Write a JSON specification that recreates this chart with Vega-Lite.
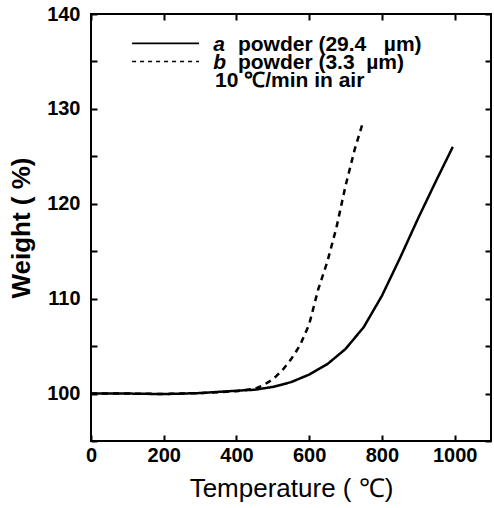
{
  "$schema": "https://vega.github.io/schema/vega-lite/v6.json",
  "width": 400,
  "height": 427,
  "autosize": {"type": "none"},
  "padding": {"left": 91, "top": 14, "right": 3, "bottom": 67},
  "background": "white",
  "config": {
    "view": {"stroke": "black", "strokeWidth": 2},
    "font": "Liberation Sans",
    "axis": {"labelColor": "black", "titleColor": "black", "labelFont": "Liberation Sans", "titleFont": "Liberation Sans"}
  },
  "datasets": {
    "curves": [
      {"T": 0, "W": 100.0, "s": "a"}, {"T": 100, "W": 100.0, "s": "a"}, {"T": 200, "W": 99.95, "s": "a"},
      {"T": 300, "W": 100.05, "s": "a"}, {"T": 400, "W": 100.3, "s": "a"}, {"T": 450, "W": 100.4, "s": "a"},
      {"T": 500, "W": 100.7, "s": "a"}, {"T": 550, "W": 101.2, "s": "a"}, {"T": 600, "W": 102.0, "s": "a"},
      {"T": 650, "W": 103.1, "s": "a"}, {"T": 700, "W": 104.7, "s": "a"}, {"T": 750, "W": 107.0, "s": "a"},
      {"T": 800, "W": 110.3, "s": "a"}, {"T": 850, "W": 114.3, "s": "a"}, {"T": 900, "W": 118.5, "s": "a"},
      {"T": 950, "W": 122.5, "s": "a"}, {"T": 995, "W": 126.0, "s": "a"},
      {"T": 0, "W": 100.0, "s": "b"}, {"T": 100, "W": 100.0, "s": "b"}, {"T": 200, "W": 99.95, "s": "b"},
      {"T": 300, "W": 100.05, "s": "b"}, {"T": 400, "W": 100.25, "s": "b"}, {"T": 450, "W": 100.5, "s": "b"},
      {"T": 475, "W": 100.9, "s": "b"}, {"T": 500, "W": 101.5, "s": "b"}, {"T": 525, "W": 102.4, "s": "b"},
      {"T": 550, "W": 103.6, "s": "b"}, {"T": 575, "W": 105.1, "s": "b"}, {"T": 600, "W": 107.3, "s": "b"},
      {"T": 625, "W": 111.0, "s": "b"}, {"T": 650, "W": 113.9, "s": "b"}, {"T": 675, "W": 117.5, "s": "b"},
      {"T": 700, "W": 121.9, "s": "b"}, {"T": 725, "W": 125.7, "s": "b"}, {"T": 748, "W": 128.6, "s": "b"}
    ]
  },
  "layer": [
    {
      "data": {"name": "curves"},
      "mark": {"type": "line", "color": "black", "strokeWidth": 2.5},
      "encoding": {
        "x": {
          "field": "T", "type": "quantitative",
          "scale": {"domain": [0, 1100], "nice": false, "zero": false},
          "axis": {
            "orient": "bottom", "values": [0,100,200,300,400,500,600,700,800,900,1000,1100], "format": "d",
            "labelExpr": "datum.value % 200 === 0 && datum.value <= 1000 ? datum.label : ''",
            "domain": false, "ticks": false, "tickSize": 0,
            "grid": true, "gridColor": "black", "gridOpacity": 1, "gridWidth": 2, "gridDash": [6, 415, 6, 600],
            "labelFontSize": 20, "labelFontWeight": "bold", "labelPadding": 4, "labelFlush": false,
            "title": "Temperature (\u00a0\u2103)", "titleFontSize": 26, "titleFontWeight": "normal", "titlePadding": 10
          }
        },
        "y": {
          "field": "W", "type": "quantitative",
          "scale": {"domain": [95, 140], "nice": false, "zero": false},
          "axis": {
            "orient": "left", "values": [95,100,105,110,115,120,125,130,135,140],
            "labelExpr": "datum.value % 10 === 0 ? datum.label : ''",
            "domain": false, "ticks": false, "tickSize": 0,
            "grid": true, "gridColor": "black", "gridOpacity": 1, "gridWidth": 2, "gridDash": [6, 388, 6, 600],
            "labelFontSize": 20, "labelFontWeight": "bold", "labelPadding": 11, "labelFlush": false,
            "title": "Weight ( %)", "titleFontSize": 26, "titleFontWeight": "bold", "titlePadding": 12
          }
        },
        "strokeDash": {
          "field": "s", "type": "nominal",
          "scale": {"domain": ["a", "b"], "range": [[1, 0], [6, 5]]},
          "legend": null
        }
      }
    },
    {
      "data": {"values": [{}]},
      "mark": {"type": "rule", "color": "black", "strokeWidth": 1.8},
      "encoding": {
        "x": {"datum": 113, "type": "quantitative"},
        "x2": {"datum": 297},
        "y": {"datum": 136.9, "type": "quantitative"}
      }
    },
    {
      "data": {"values": [{}]},
      "mark": {"type": "rule", "color": "black", "strokeWidth": 1.5, "strokeDash": [4, 4]},
      "encoding": {
        "x": {"datum": 113, "type": "quantitative"},
        "x2": {"datum": 297},
        "y": {"datum": 135.0, "type": "quantitative"}
      }
    },
    {
      "data": {"values": [{}]},
      "mark": {"type": "text", "align": "left", "baseline": "middle", "fontSize": 21, "fontWeight": "bold", "fontStyle": "italic", "color": "black", "text": "a"},
      "encoding": {"x": {"datum": 336, "type": "quantitative"}, "y": {"datum": 136.7, "type": "quantitative"}}
    },
    {
      "data": {"values": [{}]},
      "mark": {"type": "text", "align": "left", "baseline": "middle", "fontSize": 21, "fontWeight": "bold", "color": "black", "text": "powder (29.4\u00a0\u00a0\u00a0\u00b5m)"},
      "encoding": {"x": {"datum": 404, "type": "quantitative"}, "y": {"datum": 136.7, "type": "quantitative"}}
    },
    {
      "data": {"values": [{}]},
      "mark": {"type": "text", "align": "left", "baseline": "middle", "fontSize": 21, "fontWeight": "bold", "fontStyle": "italic", "color": "black", "text": "b"},
      "encoding": {"x": {"datum": 336, "type": "quantitative"}, "y": {"datum": 134.8, "type": "quantitative"}}
    },
    {
      "data": {"values": [{}]},
      "mark": {"type": "text", "align": "left", "baseline": "middle", "fontSize": 21, "fontWeight": "bold", "color": "black", "text": "powder (3.3\u00a0\u00a0\u00b5m)"},
      "encoding": {"x": {"datum": 404, "type": "quantitative"}, "y": {"datum": 134.8, "type": "quantitative"}}
    },
    {
      "data": {"values": [{}]},
      "mark": {"type": "text", "align": "left", "baseline": "middle", "fontSize": 21, "fontWeight": "bold", "color": "black", "text": "10 \u2103/min in air"},
      "encoding": {"x": {"datum": 341, "type": "quantitative"}, "y": {"datum": 132.9, "type": "quantitative"}}
    }
  ]
}
